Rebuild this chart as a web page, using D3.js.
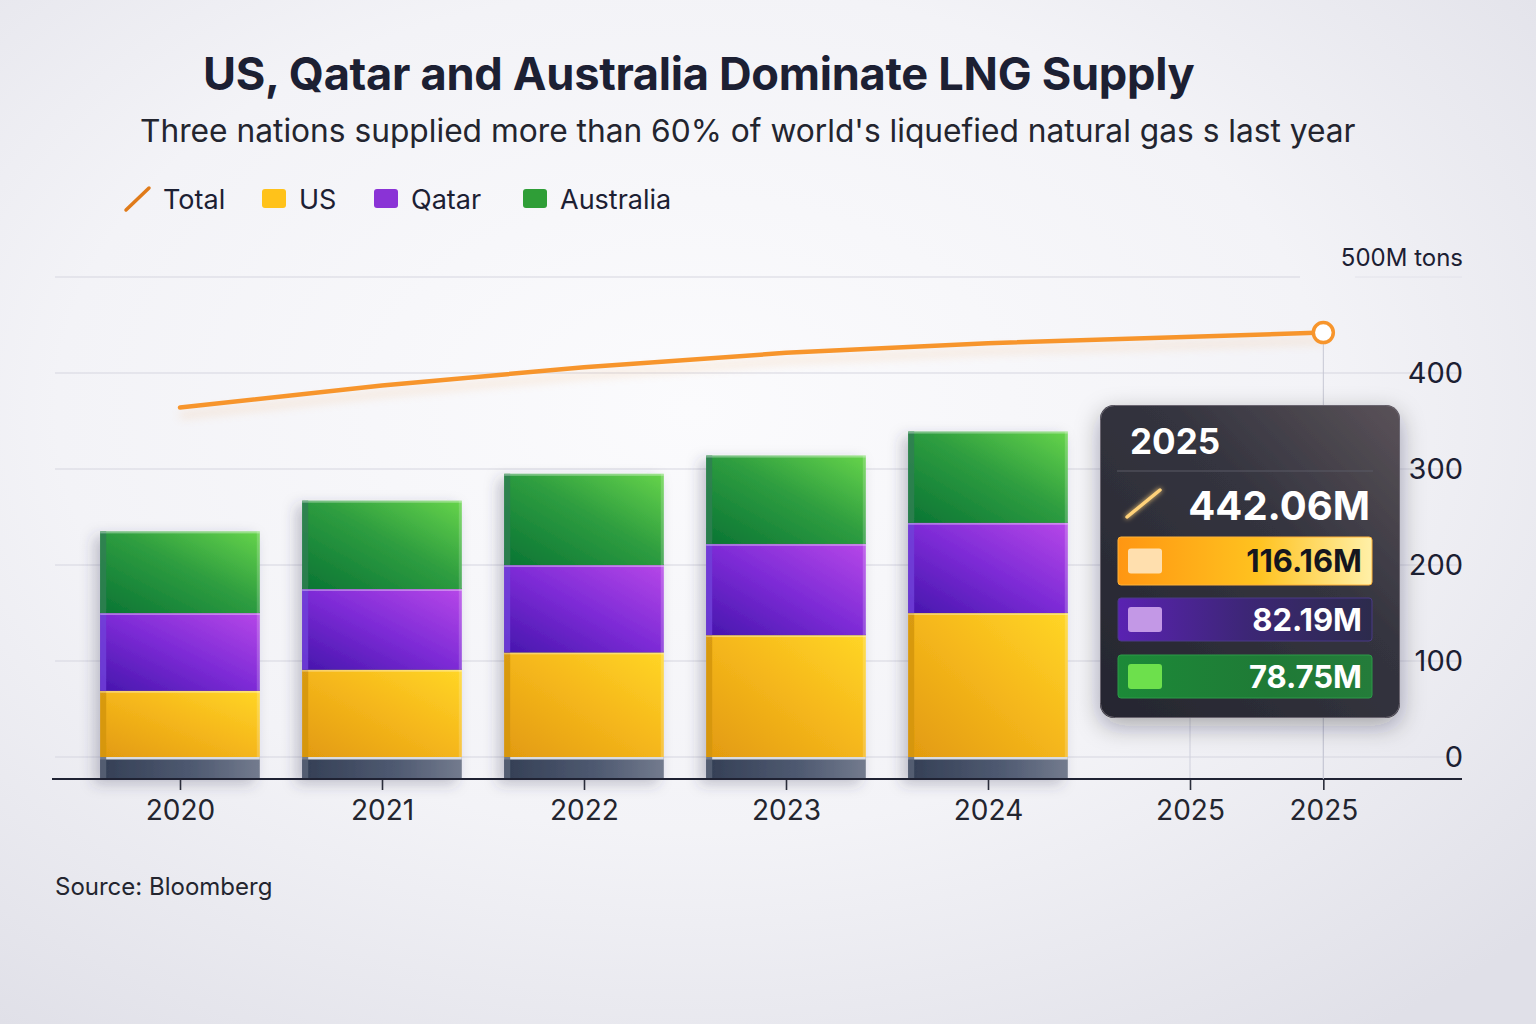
<!DOCTYPE html>
<html>
<head>
<meta charset="utf-8">
<script src="https://cdn.jsdelivr.net/npm/d3@7/dist/d3.min.js"></script>
<style>
  html,body{margin:0;padding:0;background:#f1f1f5;}
  svg{display:block;font-family:Inter,"Noto Sans",sans-serif;}
</style>
</head>
<body>
<svg id="chart" width="1536" height="1024"></svg>
<script>
// ---------- DATA ----------
const years = [2020, 2021, 2022, 2023, 2024];
const usValues = [69, 91, 109, 127, 150];
const qatarValues = [81, 84, 91, 95, 94];
const australiaValues = [85, 92, 95, 92, 95];
const totalYears = [2020, 2021, 2022, 2023, 2024, 2025.66];
const totalValues = [364, 387, 406, 421, 431, 442.06];
const xTickValues = [2020, 2021, 2022, 2023, 2024, 2025, 2025.66];
const xTickLabels = ["2020", "2021", "2022", "2023", "2024", "2025", "2025"];
const yTickValues = [0, 100, 200, 300, 400, 500];
const yTickLabels = ["0", "100", "200", "300", "400", "500M tons"];
const seriesNames = ["Total", "US", "Qatar", "Australia"];
const tooltipYear = "2025";
const tooltipTotal = 442.06;
const tooltipSeries = ["US", "Qatar", "Australia"];
const tooltipValues = [116.16, 82.19, 78.75];
const titleText = "US, Qatar and Australia Dominate LNG Supply";
const subtitleText = "Three nations supplied more than 60% of world's liquefied natural gas s last year";
const sourceText = "Source: Bloomberg";

// ---------- SETUP ----------
const svg = d3.select("#chart");
const W = 1536, H = 1024;
const defs = svg.append("defs");

// background
const bg = defs.append("radialGradient").attr("id", "bg").attr("cx", "45%").attr("cy", "40%").attr("r", "75%");
bg.append("stop").attr("offset", "0%").attr("stop-color", "#fbfbfd");
bg.append("stop").attr("offset", "55%").attr("stop-color", "#f3f3f7");
bg.append("stop").attr("offset", "100%").attr("stop-color", "#e0e0e8");
svg.append("rect").attr("width", W).attr("height", H).attr("fill", "url(#bg)");

function lg(id, stops, x1, y1, x2, y2) {
  const g = defs.append("linearGradient").attr("id", id)
    .attr("x1", x1).attr("y1", y1).attr("x2", x2).attr("y2", y2);
  stops.forEach(s => g.append("stop").attr("offset", s[0]).attr("stop-color", s[1]));
}
lg("gUS", [["0%", "#e29a10"], ["55%", "#f6b91c"], ["100%", "#ffd626"]], "0%", "100%", "100%", "0%");
lg("gQatar", [["0%", "#4616ad"], ["50%", "#7d2bd6"], ["100%", "#b647e8"]], "0%", "100%", "100%", "0%");
lg("gAus", [["0%", "#0a7434"], ["55%", "#2f9e40"], ["100%", "#66d44a"]], "0%", "100%", "100%", "0%");
lg("gBase", [["0%", "#343f55"], ["60%", "#505b72"], ["100%", "#737b8e"]], "0%", "0%", "100%", "0%");
lg("gTip", [["0%", "#25262f"], ["60%", "#34343f"], ["100%", "#5a5258"]], "0%", "100%", "100%", "0%");
lg("gRowUS", [["0%", "#ff9612"], ["55%", "#ffc21f"], ["100%", "#fff0a8"]], "0%", "0%", "100%", "0%");
lg("gRowQatar", [["0%", "#5a22b2"], ["50%", "#3d2677"], ["100%", "#2c2b4c"]], "0%", "0%", "100%", "0%");
lg("gRowAus", [["0%", "#1c8a38"], ["60%", "#1f7a36"], ["100%", "#247c3a"]], "0%", "0%", "100%", "0%");

const shadow = defs.append("filter").attr("id", "barShadow").attr("x", "-30%").attr("y", "-10%").attr("width", "160%").attr("height", "130%");
shadow.append("feDropShadow").attr("dx", -6).attr("dy", 5).attr("stdDeviation", 7).attr("flood-color", "#3a3a5a").attr("flood-opacity", 0.28);
const tipShadow = defs.append("filter").attr("id", "tipShadow").attr("x", "-20%").attr("y", "-20%").attr("width", "140%").attr("height", "140%");
tipShadow.append("feDropShadow").attr("dx", 0).attr("dy", 8).attr("stdDeviation", 12).attr("flood-color", "#1a1a2a").attr("flood-opacity", 0.35);
const glow = defs.append("filter").attr("id", "glow").attr("x", "-50%").attr("y", "-50%").attr("width", "200%").attr("height", "200%");
glow.append("feGaussianBlur").attr("stdDeviation", 2.5).attr("result", "b");
const fm = glow.append("feMerge");
fm.append("feMergeNode").attr("in", "b");
fm.append("feMergeNode").attr("in", "SourceGraphic");
const blur6 = defs.append("filter").attr("id", "blur6").attr("x", "-10%").attr("y", "-200%").attr("width", "120%").attr("height", "500%");
blur6.append("feGaussianBlur").attr("stdDeviation", 5);

// scales
const x = d3.scaleLinear().domain([2020, 2024]).range([180, 988]);
const y = d3.scaleLinear().domain([0, 500]).range([757, 277]);
const axisY = 779;
const step = x(2021) - x(2020);
const barW = step * 0.79;

// ---------- TITLES ----------
function fitText(sel, width) {
  const fs = parseFloat(sel.attr("font-size"));
  const len = sel.node().getComputedTextLength();
  sel.attr("font-size", fs * width / len);
}
const title = svg.append("text").attr("x", 203).attr("y", 90)
  .attr("font-size", 46).attr("font-weight", 700).attr("fill", "#1c2033")
  .attr("letter-spacing", -0.3).text(titleText);
fitText(title, 992);
const sub = svg.append("text").attr("x", 140).attr("y", 142)
  .attr("font-size", 32).attr("font-weight", 400).attr("fill", "#23252f")
  .text(subtitleText);
fitText(sub, 1216);

// ---------- LEGEND ----------
const legendX = [125, 262, 374, 523];
const legendColors = ["#e07b1a", "#ffc21a", "#8a33d6", "#2f9e37"];
const leg = svg.append("g");
seriesNames.forEach((n, i) => {
  const g = leg.append("g").attr("transform", `translate(${legendX[i]},199)`);
  if (i === 0) {
    g.append("line").attr("x1", 1).attr("y1", 11).attr("x2", 24).attr("y2", -11)
      .attr("stroke", legendColors[0]).attr("stroke-width", 3.5).attr("stroke-linecap", "round");
  } else {
    g.append("rect").attr("x", 0).attr("y", -10).attr("width", 24).attr("height", 19).attr("rx", 3)
      .attr("fill", legendColors[i]);
  }
  g.append("text").attr("x", i === 0 ? 38 : 37).attr("y", 9.5).attr("font-size", 27)
    .attr("fill", "#1c2033").text(n);
});

// ---------- GRID ----------
const grid = svg.append("g");
yTickValues.forEach(v => {
  const x2 = v === 500 ? 1300 : 1462;
  grid.append("line").attr("x1", 55).attr("x2", x2).attr("y1", y(v)).attr("y2", y(v))
    .attr("stroke", "#d6d6e0").attr("stroke-width", 1.2);
});
grid.append("line").attr("x1", 1355).attr("x2", 1462).attr("y1", y(500)).attr("y2", y(500))
  .attr("stroke", "#e2e2ea").attr("stroke-width", 1);
// faint verticals near latest year
[2025, 2025.66].forEach(v => {
  grid.append("line").attr("x1", x(v)).attr("x2", x(v)).attr("y1", y(100)).attr("y2", axisY)
    .attr("stroke", "#cfd0dc").attr("stroke-width", 1);
});

// ---------- BARS ----------
const stackData = years.map((yr, i) => ({ year: yr, US: usValues[i], Qatar: qatarValues[i], Australia: australiaValues[i] }));
const stack = d3.stack().keys(["US", "Qatar", "Australia"])(stackData);
const fills = { US: "url(#gUS)", Qatar: "url(#gQatar)", Australia: "url(#gAus)" };
const sideFill = { US: "#d49510", Qatar: "#7040d8", Australia: "#2f7f52" };

const barsG = svg.append("g");
years.forEach((yr, i) => {
  const cx = x(yr);
  const bg = barsG.append("g").attr("filter", "url(#barShadow)");
  // pedestal
  bg.append("rect").attr("x", cx - barW / 2).attr("y", y(0)).attr("width", barW).attr("height", axisY - y(0))
    .attr("fill", "url(#gBase)");
  bg.append("rect").attr("x", cx - barW / 2).attr("y", y(0)).attr("width", barW).attr("height", 2.5)
    .attr("fill", "#d8dbe2");
  bg.append("rect").attr("x", cx - barW / 2).attr("y", y(0)).attr("width", 6).attr("height", axisY - y(0))
    .attr("fill", "#5a6478").attr("opacity", 0.8);
  stack.forEach(layer => {
    const d = layer[i];
    const key = layer.key;
    const top = y(d[1]), bot = y(d[0]);
    bg.append("rect").attr("x", cx - barW / 2).attr("y", top).attr("width", barW).attr("height", bot - top)
      .attr("fill", fills[key]);
    // 3d side
    bg.append("rect").attr("x", cx - barW / 2).attr("y", top).attr("width", 6).attr("height", bot - top)
      .attr("fill", sideFill[key]).attr("opacity", 0.85);
    // highlight and separator
    bg.append("rect").attr("x", cx - barW / 2).attr("y", top).attr("width", barW).attr("height", 2)
      .attr("fill", "#ffffff").attr("opacity", 0.35);
    bg.append("rect").attr("x", cx - barW / 2).attr("y", top - 1).attr("width", barW).attr("height", 1.2)
      .attr("fill", "#1c1c30").attr("opacity", key === "Australia" ? 0 : 0.55);
    bg.append("rect").attr("x", cx + barW / 2 - 3).attr("y", top).attr("width", 3).attr("height", bot - top)
      .attr("fill", "#ffffff").attr("opacity", 0.18);
  });
});

// ---------- AXES ----------
const xAxis = d3.axisBottom(x).tickValues(xTickValues)
  .tickFormat((d, i) => xTickLabels[i]).tickSize(11).tickPadding(10);
const xg = svg.append("g").attr("transform", `translate(0,${axisY})`).call(xAxis);
xg.select(".domain").remove();
xg.selectAll(".tick line").attr("stroke", "#2a2d3a").attr("stroke-width", 1.6);
xg.selectAll(".tick text").attr("font-size", 28).attr("fill", "#23252f")
  .attr("font-family", "Inter, sans-serif");
svg.append("line").attr("x1", 52).attr("x2", 1462).attr("y1", axisY).attr("y2", axisY)
  .attr("stroke", "#1f2233").attr("stroke-width", 2);

const yAxis = d3.axisLeft(y).tickValues(yTickValues)
  .tickFormat((d, i) => yTickLabels[i]).tickSize(0).tickPadding(0);
const yg = svg.append("g").attr("transform", "translate(1463,0)").call(yAxis);
yg.select(".domain").remove();
yg.selectAll(".tick text")
  .attr("font-family", "Inter, sans-serif")
  .attr("fill", "#1c2033")
  .attr("font-size", (d) => d === 500 ? 24 : 29)
  .attr("dy", (d) => d === 500 ? "-0.5em" : "0.32em")
  .attr("text-anchor", "end");

// ---------- TOTAL LINE ----------
const linePts = totalYears.map((yr, i) => [x(yr), y(totalValues[i])]);
const line = d3.line();
svg.append("path").attr("d", line(linePts.map(p => [p[0], p[1] + 8])))
  .attr("fill", "none").attr("stroke", "#f0b070").attr("stroke-width", 6).attr("opacity", 0.25)
  .attr("filter", "url(#blur6)");
// vertical guide from the last point
const last = linePts[linePts.length - 1];
svg.append("line").attr("x1", last[0]).attr("x2", last[0]).attr("y1", last[1]).attr("y2", axisY)
  .attr("stroke", "#c6c7d3").attr("stroke-width", 1);
svg.append("path").attr("d", line(linePts))
  .attr("fill", "none").attr("stroke", "#f7952c").attr("stroke-width", 4.5)
  .attr("stroke-linecap", "round").attr("stroke-linejoin", "round");
svg.append("circle").attr("cx", last[0]).attr("cy", last[1]).attr("r", 10)
  .attr("fill", "#ffffff").attr("stroke", "#f7952c").attr("stroke-width", 3.5);

// ---------- TOOLTIP ----------
const tip = svg.append("g").attr("transform", "translate(1100,405)");
tip.append("rect").attr("width", 300).attr("height", 313).attr("rx", 14)
  .attr("fill", "url(#gTip)").attr("filter", "url(#tipShadow)");
tip.append("rect").attr("x", 0.5).attr("y", 0.5).attr("width", 299).attr("height", 312).attr("rx", 14)
  .attr("fill", "none").attr("stroke", "#6a6570").attr("stroke-width", 1);
tip.append("path").attr("d", "M180,1 L286,1").attr("stroke", "#f3b060").attr("stroke-width", 2)
  .attr("opacity", 0.7).attr("filter", "url(#glow)");
tip.append("text").attr("x", 30).attr("y", 49).attr("font-size", 35).attr("font-weight", 700)
  .attr("fill", "#ffffff").text(tooltipYear);
tip.append("line").attr("x1", 17).attr("x2", 273).attr("y1", 66).attr("y2", 66)
  .attr("stroke", "#5a5a66").attr("stroke-width", 1.2);
tip.append("line").attr("x1", 27).attr("y1", 112).attr("x2", 60).attr("y2", 85)
  .attr("stroke", "#ffd27a").attr("stroke-width", 3.5).attr("stroke-linecap", "round")
  .attr("filter", "url(#glow)");
tip.append("text").attr("x", 270).attr("y", 115).attr("font-size", 40).attr("font-weight", 700)
  .attr("text-anchor", "end").attr("fill", "#ffffff").text(d3.format(".2f")(tooltipTotal) + "M");

const rowY = [132, 193, 250];
const rowH = [48, 43, 43];
const rowFill = ["url(#gRowUS)", "url(#gRowQatar)", "url(#gRowAus)"];
const rowSquare = ["#ffdfae", "#c398e6", "#6de04c"];
const rowText = ["#15161e", "#ffffff", "#ffffff"];
tooltipSeries.forEach((s, i) => {
  const g = tip.append("g").attr("transform", `translate(18,${rowY[i]})`);
  g.append("rect").attr("width", 254).attr("height", rowH[i]).attr("rx", 3).attr("fill", rowFill[i])
    .attr("stroke", i === 0 ? "#ffb23a" : (i === 1 ? "#4a3a86" : "#2c9a48")).attr("stroke-width", 1);
  g.append("rect").attr("x", 10).attr("y", rowH[i] / 2 - 12.5).attr("width", 34).attr("height", 25).attr("rx", 3)
    .attr("fill", rowSquare[i]);
  g.append("text").attr("x", 244).attr("y", rowH[i] / 2 + 11).attr("font-size", 31).attr("font-weight", 700)
    .attr("text-anchor", "end").attr("fill", rowText[i]).text(d3.format(".2f")(tooltipValues[i]) + "M");
});

// ---------- SOURCE ----------
svg.append("text").attr("x", 55).attr("y", 895).attr("font-size", 24).attr("fill", "#23252f")
  .text(sourceText);
</script>
</body>
</html>
